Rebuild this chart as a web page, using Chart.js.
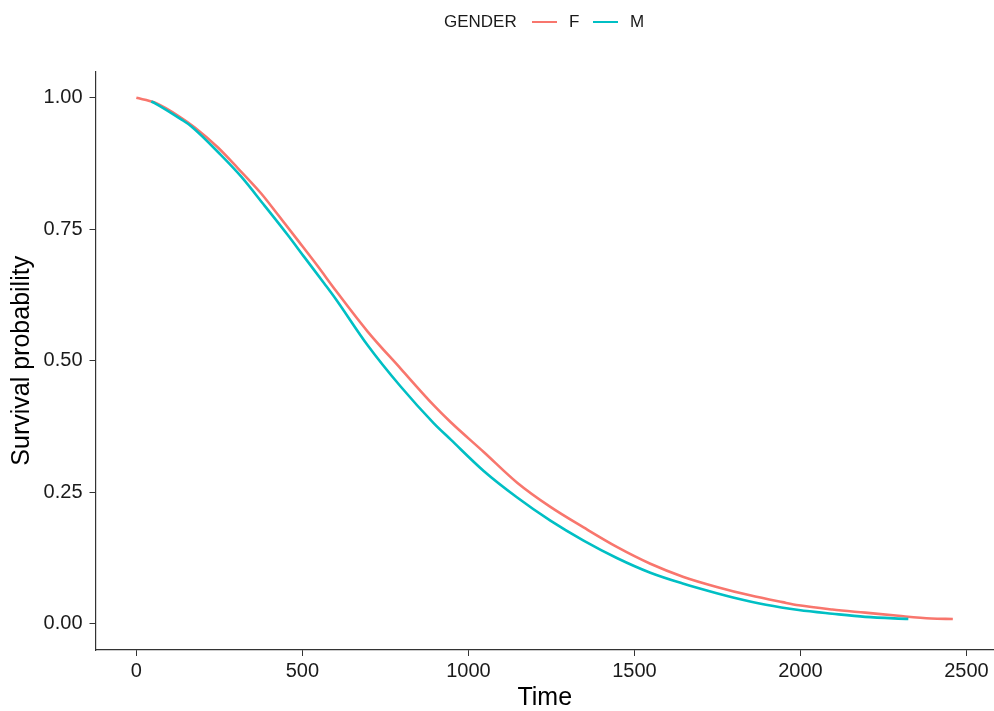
<!DOCTYPE html>
<html>
<head>
<meta charset="utf-8">
<script src="https://cdn.jsdelivr.net/npm/chart.js@4.4.0/dist/chart.umd.min.js"></script>
<style>
  html, body { margin: 0; padding: 0; background: #fff; }
  #wrap { position: relative; width: 994px; height: 711px; overflow: hidden; }
  #legend { position: absolute; left: 0; top: 0; width: 994px; height: 40px;
            font-family: 'Liberation Sans', Arial, sans-serif; font-size: 17px; color: #1a1a1a; }
  #legend span { position: absolute; line-height: 20px; top: 12px; white-space: nowrap; }
  #legend i { position: absolute; top: 20.5px; width: 25px; height: 2.5px; display: block; }
  canvas { position: absolute; left: 0; top: 0; }
</style>
</head>
<body>
<div id="wrap">
  <canvas id="c" width="994" height="711"></canvas>
  <div id="legend">
    <span style="left:444px">GENDER</span>
    <i style="left:532px;background:#F8766D"></i>
    <span style="left:569px">F</span>
    <i style="left:593px;background:#00BFC4"></i>
    <span style="left:630px">M</span>
  </div>
</div>
<script>
// ---- data ----
const seriesNames = ['F', 'M'];
const timeF = [0, 55, 135, 175, 245, 306, 376, 426, 490, 546, 600, 696, 796, 896, 947, 1047, 1147, 1247, 1347, 1447, 1548, 1648, 1748, 1848, 1946, 1995, 2096, 2195, 2295, 2394, 2459];
const survF = [1.000, 0.991, 0.962, 0.944, 0.906, 0.866, 0.818, 0.778, 0.726, 0.680, 0.634, 0.556, 0.485, 0.415, 0.383, 0.326, 0.268, 0.222, 0.183, 0.146, 0.114, 0.089, 0.070, 0.054, 0.041, 0.035, 0.027, 0.021, 0.015, 0.010, 0.009];
const timeM = [45, 55, 135, 165, 255, 316, 386, 456, 506, 566, 600, 696, 796, 896, 947, 1047, 1147, 1247, 1347, 1447, 1548, 1648, 1748, 1797, 1896, 1995, 2096, 2195, 2325];
const survM = [0.993, 0.990, 0.959, 0.946, 0.891, 0.850, 0.795, 0.739, 0.697, 0.647, 0.618, 0.530, 0.451, 0.381, 0.350, 0.290, 0.240, 0.196, 0.158, 0.125, 0.097, 0.076, 0.058, 0.050, 0.036, 0.026, 0.019, 0.013, 0.009];
const xTicks = [0, 500, 1000, 1500, 2000, 2500];
const yTicks = [0, 0.25, 0.5, 0.75, 1.0];

const FONT = "'Liberation Sans', Arial, sans-serif";
const toPts = (xs, ys) => xs.map((x, i) => ({ x: x, y: ys[i] }));

new Chart(document.getElementById('c'), {
  type: 'line',
  data: {
    datasets: [
      { label: seriesNames[0], data: toPts(timeF, survF), borderColor: '#F8766D', backgroundColor: '#F8766D', borderWidth: 2.6, pointRadius: 0, cubicInterpolationMode: 'monotone', fill: false, order: 2 },
      { label: seriesNames[1], data: toPts(timeM, survM), borderColor: '#00BFC4', backgroundColor: '#00BFC4', borderWidth: 2.6, pointRadius: 0, cubicInterpolationMode: 'monotone', fill: false, order: 1 }
    ]
  },
  options: {
    responsive: false,
    animation: false,
    devicePixelRatio: 1,
    layout: { padding: { top: 71.5, right: 0, left: 0, bottom: 0 } },
    plugins: { legend: { display: false }, tooltip: { enabled: false } },
    scales: {
      x: {
        type: 'linear', min: -123, max: 2583,
        afterBuildTicks: a => { a.ticks = xTicks.map(v => ({ value: v })); },
        afterFit: s => { s.height = 61; },
        grid: { display: true, drawOnChartArea: false, drawTicks: true, tickLength: 6, color: '#333', lineWidth: 1 },
        border: { display: true, color: '#333', width: 1.2 },
        ticks: { font: { family: FONT, size: 20 }, color: '#1a1a1a', padding: 3, maxRotation: 0, callback: v => String(v) },
        title: { display: true, text: 'Time', font: { family: FONT, size: 25, lineHeight: 1 }, color: '#000', padding: { top: 0, bottom: 0 } }
      },
      y: {
        type: 'linear', min: -0.05, max: 1.05,
        afterBuildTicks: a => { a.ticks = yTicks.map(v => ({ value: v })); },
        afterFit: s => { s.width = 95.5; },
        grid: { display: true, drawOnChartArea: false, drawTicks: true, tickLength: 6, color: '#333', lineWidth: 1 },
        border: { display: true, color: '#333', width: 1.2 },
        ticks: { font: { family: FONT, size: 20 }, color: '#1a1a1a', padding: 7, callback: v => Number(v).toFixed(2) },
        title: { display: true, text: 'Survival probability', font: { family: FONT, size: 25, lineHeight: 1.2 }, color: '#000', padding: { top: 7, bottom: 0 } }
      }
    }
  }
});
</script>
</body>
</html>
